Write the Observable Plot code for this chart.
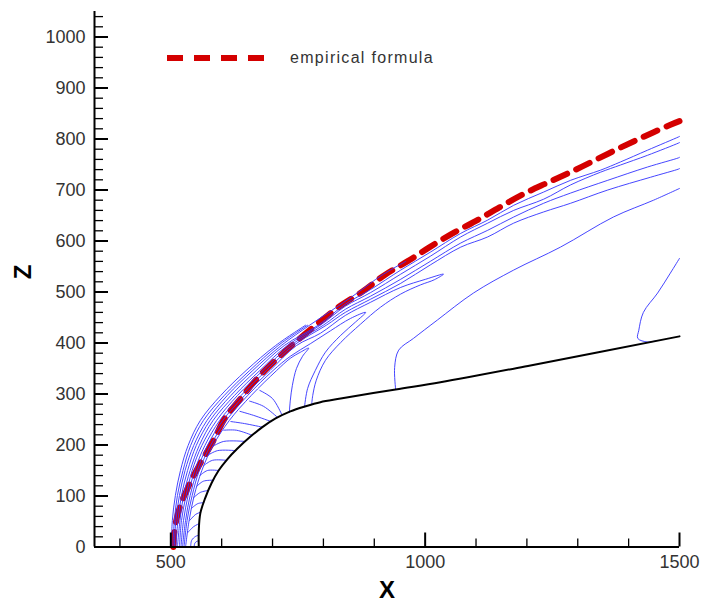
<!DOCTYPE html>
<html>
<head>
<meta charset="utf-8">
<script src="https://cdn.jsdelivr.net/npm/d3@7"></script>
<script src="https://cdn.jsdelivr.net/npm/@observablehq/plot@0.6"></script>
<style>
  body { margin: 0; background: #fff; }
  #wrap { position: relative; width: 703px; height: 608px; font-family: "Liberation Sans", Arial, sans-serif; }
  #legend-line { position: absolute; left: 167px; top: 55px; }
  #legend-text { position: absolute; left: 290px; top: 48px; font-size: 16px; line-height: 19px; letter-spacing: 1.3px; color: #333; white-space: nowrap; }
</style>
</head>
<body>
<div id="wrap">
  <div id="chart"></div>
  <svg id="legend-line" width="97" height="6"><line x1="0" y1="3" x2="97" y2="3" stroke="#d40000" stroke-width="6" stroke-dasharray="16,11"/></svg>
  <div id="legend-text"></div>
</div>
<script>
// ---- tick values ----
const xMajor = [500, 1000, 1500];
const xMinor = [400, 600, 700, 800, 900, 1100, 1200, 1300, 1400];
const yMajor = [0, 100, 200, 300, 400, 500, 600, 700, 800, 900, 1000];
const yMinor = d3.range(20, 1041, 20).filter(v => v % 100 !== 0);

// ---- labels ----
const xLabel = "X";
const zLabel = "Z";
const legendLabel = "empirical formula";

// ---- empirical shock formula (red dashed) ----
const empirical = [[505,0],[507,30],[513,62],[522,90],[533,115],[545,140],[558,164],[584,209],[606,252],[639,293],[672,333],[710,370],[749,405],[790,439],[832,472],[877,501],[920,533],[965,560],[1009,588],[1054,615],[1099,639],[1146,666],[1193,692],[1242,715],[1290,737],[1337,760],[1386,784],[1433,806],[1480,827],[1500,835]];

// ---- body surface (black) ----
const body = [[555,0],[555,32],[558,66],[568,97],[580,125],[594,150],[611,172],[631,193],[655,215],[680,235],[706,252],[735,266],[765,276],[794,284],[834,291],[942,309],[1030,323],[1207,356],[1500,413]];

// ---- contour lines in the shock band ----
const shockBand = [
  [[501,0],[503,52],[509,101],[519,150],[534,199],[558,248],[598,297],[648,346],[706,395],[765,435]],
  [[504,0],[507,52],[513,101],[524,150],[539,199],[564,248],[605,297],[655,346],[711,395],[769,435]],
  [[507,0],[510,52],[517,101],[528,150],[545,199],[571,248],[611,297],[661,346],[717,395],[773,435],[815,463],[865,497],[915,533],[962,560]],
  [[510,0],[514,52],[521,101],[533,150],[550,199],[577,248],[618,297],[668,346],[723,395],[790,435],[843,476],[893,505],[952,543],[1010,578],[1070,615],[1123,641],[1174,670],[1233,696],[1286,719],[1345,739],[1384,755],[1437,778],[1498,804],[1500,805]],
  [[513,0],[518,52],[525,101],[538,150],[556,199],[583,248],[625,297],[675,346],[729,395],[794,435],[843,472],[893,499],[952,535],[1010,570],[1070,608],[1123,635],[1174,660],[1233,682],[1286,710],[1345,735],[1384,749],[1437,768],[1498,792],[1500,793]],
  [[517,0],[521,52],[530,101],[542,150],[561,199],[590,248],[631,297],[681,346],[735,395],[800,435],[843,466],[893,492],[952,525],[1010,560],[1070,596],[1123,621],[1174,647],[1233,674],[1286,694],[1359,719],[1437,745],[1498,763],[1500,764]],
  [[520,0],[525,52],[534,101],[547,150],[567,199],[596,248],[638,297],[688,346],[741,395],[806,435],[843,460],[893,486],[952,517],[1010,553],[1070,588],[1123,608],[1174,635],[1233,657],[1286,674],[1359,700],[1443,725],[1498,741],[1500,742]],
  [[523,0],[529,52],[538,101],[552,150],[572,199],[602,248],[645,297],[695,346],[747,395],[794,419],[843,454],[893,480],[952,509],[1001,525],[1036,535],[1018,524],[991,514],[952,496],[912,470],[873,437],[834,401],[804,366],[786,327],[779,297],[777,280]],
  [[526,0],[532,52],[542,101],[556,150],[578,199],[609,248],[651,297],[701,346],[735,374],[775,399],[814,424],[853,448],[883,460],[863,441],[834,415],[804,382],[784,346],[769,311],[763,276]],
  [[529,0],[536,52],[546,101],[561,150],[583,199],[615,248],[658,297],[708,346],[735,370],[755,382],[771,390],[759,374],[747,350],[739,317],[735,288],[733,264]]
];

// ---- contour lines between shock and nose ----
const noseLines = [
  [[546,0],[547,7],[551,11],[555,12]],
  [[539,0],[541,13],[549,21],[555,23]],
  [[533,28],[545,40],[556,46]],
  [[537,52],[549,64],[558,68]],
  [[541,76],[553,85],[565,87]],
  [[545,97],[558,107],[574,111]],
  [[551,119],[564,129],[583,131]],
  [[557,140],[572,150],[594,150]],
  [[565,160],[582,170],[609,170]],
  [[573,180],[592,189],[627,189]],
  [[582,197],[604,207],[646,207]],
  [[604,229],[629,229],[660,219]],
  [[618,246],[645,242],[680,235]],
  [[636,266],[663,258],[697,246]],
  [[655,286],[682,276],[710,254]],
  [[675,307],[700,291],[718,260]]
];

// ---- contour lines over the cone ----
const coneLines = [
  [[942,309],[940,352],[948,386],[977,409],[1024,445],[1095,498],[1174,543],[1266,588],[1370,647],[1449,680],[1500,703]],
  [[1453,404],[1437,402],[1418,409],[1420,425],[1429,460],[1457,498],[1482,537],[1500,566]]
];

// ---- build rows ----
const toRows = (lines, prefix) => lines.flatMap((ln, i) => ln.map(([x, z]) => ({id: prefix + i, x, z})));
const contourRows = [...toRows(shockBand, "s"), ...toRows(noseLines, "n"), ...toRows(coneLines, "c")];
const empRows = empirical.map(([x, z]) => ({x, z}));
const bodyRows = body.map(([x, z]) => ({x, z}));

const chart = Plot.plot({
  width: 703,
  height: 608,
  marginLeft: 94,
  marginRight: 24,
  marginTop: 11,
  marginBottom: 61.5,
  x: {domain: [350, 1500]},
  y: {domain: [0, 1050]},
  style: {fontFamily: "'Liberation Sans', Arial, sans-serif", fontSize: "18px", background: "#fff", color: "#000"},
  marks: [
    Plot.line(empRows, {x: "x", y: "z", stroke: "#d40000", strokeWidth: 6, strokeDasharray: "15,10", curve: "catmull-rom"}),
    Plot.line(contourRows, {x: "x", y: "z", z: "id", stroke: "#3232ff", strokeWidth: 1, strokeOpacity: 0.9, curve: "catmull-rom"}),
    Plot.line(bodyRows, {x: "x", y: "z", stroke: "#000", strokeWidth: 2, curve: "catmull-rom"}),
    Plot.axisX(xMinor, {anchor: "bottom", tickSize: -8, tickFormat: () => "", label: null, stroke: "#000", strokeWidth: 1.3}),
    Plot.axisX(xMajor, {anchor: "bottom", tickSize: -14, tickPadding: 22, tickFormat: d => String(d), label: null, stroke: "#000", fill: "#333", strokeWidth: 2}),
    Plot.axisY(yMinor, {anchor: "left", tickSize: -9, tickFormat: () => "", label: null, stroke: "#000", strokeWidth: 1.3}),
    Plot.axisY(yMajor, {anchor: "left", tickSize: -14, tickPadding: 23, tickFormat: d => String(d), label: null, stroke: "#000", fill: "#333", strokeWidth: 2}),
    Plot.ruleX([350], {stroke: "#000", strokeWidth: 2}),
    Plot.ruleY([0], {stroke: "#000", strokeWidth: 2}),
    Plot.text([xLabel], {text: d => d, frameAnchor: "bottom", dy: 51, fontSize: 24, fontWeight: "bold", fill: "#000"}),
    Plot.text([zLabel], {text: d => d, frameAnchor: "left", dx: -71, rotate: -90, fontSize: 24, fontWeight: "bold", fill: "#000"})
  ]
});
document.getElementById("chart").appendChild(chart);
document.getElementById("legend-text").textContent = legendLabel;
</script>
</body>
</html>
